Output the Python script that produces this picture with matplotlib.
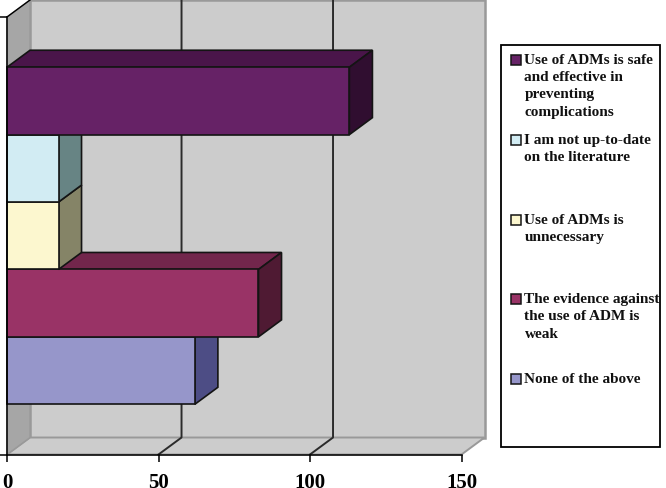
import matplotlib
matplotlib.use('Agg')
import matplotlib.pyplot as plt
from matplotlib.patches import Polygon, Rectangle

plt.rcParams['font.family'] = ['Liberation Serif', 'DejaVu Serif']
plt.rcParams['font.weight'] = 'bold'

# bars from bottom to top
labels = ['None of the above',
          'The evidence against\nthe use of ADM is\nweak',
          'Use of ADMs is\nunnecessary',
          'I am not up-to-date\non the literature',
          'Use of ADMs is safe\nand effective in\npreventing\ncomplications']
values = [62, 83, 17, 17, 113]
front_colors = ['#9696ca', '#993366', '#fcf7cf', '#d2ecf3', '#662266']
top_colors = ['#72729c', '#72264c', '#bdb99b', '#9db1b6', '#4a154a']
side_colors = ['#4d4d85', '#4f1a33', '#858467', '#678484', '#300e30']
xticks = [0, 50, 100, 150]

W, H = 666, 489
fig = plt.figure(figsize=(W / 100, H / 100), dpi=100)
ax = fig.add_axes([7 / W, 1 - 455.5 / H, 454.5 / W, 437.5 / H])

ylo, yhi = -1.245, 5.245
ax.set_xlim(0, 150)
ax.set_ylim(ylo, yhi)

# depth of the fake 3d box, in data units
dx = 7.6
dy = 0.252


def face(pts, fc, ec, lw=1.0, z=1):
    ax.add_patch(Polygon(pts, closed=True, facecolor=fc, edgecolor=ec,
                         linewidth=lw, clip_on=False, zorder=z))


# walls and floor
face([(dx, ylo + dy), (150 + dx, ylo + dy), (150 + dx, yhi + dy), (dx, yhi + dy)],
     '#cccccc', '#999999', 1.8)
face([(0, ylo), (150, ylo), (150 + dx, ylo + dy), (dx, ylo + dy)],
     '#cccccc', '#999999', 1.4)
face([(0, ylo), (dx, ylo + dy), (dx, yhi + dy), (0, yhi)],
     '#a6a6a6', '#999999', 1.0)

# grid on back wall and the slanted bits on the floor
for t in xticks[1:3]:
    ax.plot([t, t + dx, t + dx], [ylo, ylo + dy, yhi + dy], color='#2b2b2b',
            lw=1.4, clip_on=False, zorder=2)
ax.plot([0, dx], [yhi, yhi + dy], color='black', lw=1.0, clip_on=False, zorder=2)

# bars, bottom one first so the upper ones sit on it
for i, v in enumerate(values):
    b, t = i - 0.5, i + 0.5
    face([(0, t), (v, t), (v + dx, t + dy), (dx, t + dy)], top_colors[i], '#141414', 1.2, 3)
    face([(v, b), (v + dx, b + dy), (v + dx, t + dy), (v, t)], side_colors[i], '#141414', 1.2, 3)
    face([(0, b), (v, b), (v, t), (0, t)], front_colors[i], '#141414', 1.2, 3)

for s in ['top', 'right']:
    ax.spines[s].set_visible(False)
for s in ['left', 'bottom']:
    ax.spines[s].set_linewidth(1.1)
    ax.spines[s].set_zorder(4)
ax.patch.set_visible(False)

ax.set_xticks(xticks)
ax.set_yticks([ylo, yhi])
ax.set_yticklabels([])
ax.tick_params(axis='x', length=5, width=1.1, labelsize=15, pad=7.5)
ax.tick_params(axis='y', length=5, width=1.1)

# legend box, drawn by hand in pixels
fig.add_artist(Rectangle((501 / W, 1 - 448 / H), 159 / W, 402 / H, transform=fig.transFigure,
                         facecolor='white', edgecolor='black', linewidth=1.3))
for n, i in enumerate(range(len(labels) - 1, -1, -1)):
    ypix = 61 + n * 79.75
    fig.add_artist(Rectangle((510.5 / W, 1 - (ypix + 5) / H), 10 / W, 10 / H,
                             transform=fig.transFigure, facecolor=front_colors[i],
                             edgecolor='#141414', linewidth=1.1))
    fig.text(524.5 / W, 1 - (ypix - 7) / H, labels[i], fontsize=11, fontweight='bold',
             va='top', ha='left', linespacing=1.42, color='#111111')

fig.savefig('out.png', dpi=100)
